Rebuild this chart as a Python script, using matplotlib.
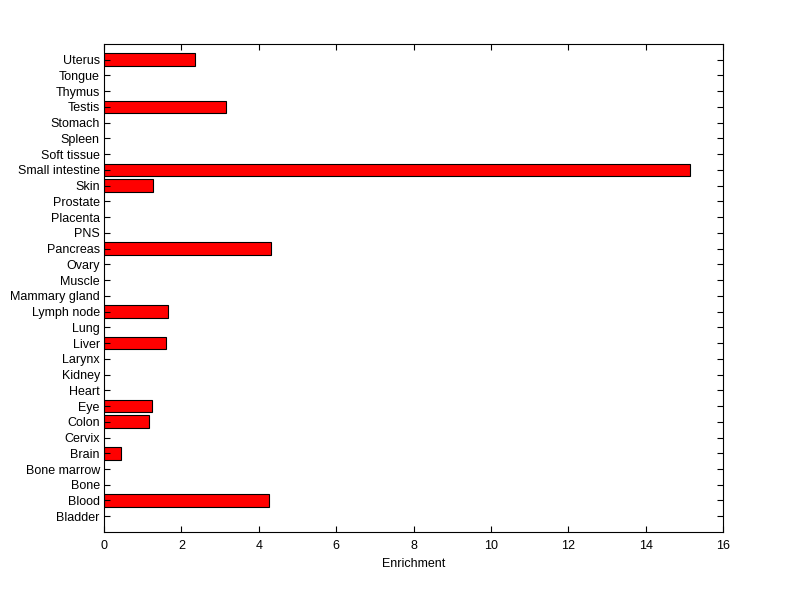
import matplotlib
matplotlib.use("Agg")
import matplotlib.pyplot as plt
import numpy as np

plt.rcParams['font.family'] = ['Liberation Sans', 'DejaVu Sans']

tissues = ["Bladder", "Blood", "Bone", "Bone marrow", "Brain", "Cervix", "Colon",
           "Eye", "Heart", "Kidney", "Larynx", "Liver", "Lung", "Lymph node",
           "Mammary gland", "Muscle", "Ovary", "Pancreas", "PNS", "Placenta",
           "Prostate", "Skin", "Small intestine", "Soft tissue", "Spleen",
           "Stomach", "Testis", "Thymus", "Tongue", "Uterus"]
enrichment = [0, 4.26, 0, 0, 0.44, 0, 1.17,
              1.24, 0, 0, 0, 1.60, 0, 1.66,
              0, 0, 0, 4.32, 0, 0,
              0, 1.27, 15.15, 0, 0,
              0, 3.15, 0, 0, 2.35]
xticks = [0, 2, 4, 6, 8, 10, 12, 14, 16]

fig = plt.figure(figsize=(8, 5.99), dpi=100)
ax = fig.add_axes([0.13, 0.1119, 0.774, 0.8147])

y = np.arange(1, len(tissues) + 1)
vals = np.array(enrichment)
mask = vals > 0
ax.barh(y[mask], vals[mask], height=0.8, color="#ff0000", edgecolor="black", linewidth=0.8)

ax.set_xlim(0, 16)
ax.set_ylim(0, len(tissues) + 1)
ax.set_xticks(xticks)
ax.set_yticks(y, tissues)
ax.set_xlabel("Enrichment", fontsize=9, labelpad=4)
ax.tick_params(direction="in", length=4, width=0.8, labelsize=9,
               top=True, right=True)
ax.tick_params(axis="x", pad=6)
ax.tick_params(axis="y", pad=3)
for s in ax.spines.values():
    s.set_linewidth(0.8)

fig.savefig("out.png", dpi=100)
